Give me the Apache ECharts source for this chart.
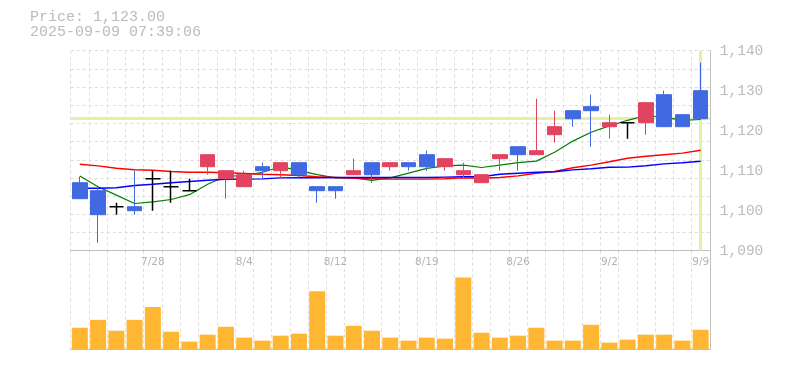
<!DOCTYPE html>
<html>
<head>
<meta charset="utf-8">
<script src="https://cdn.jsdelivr.net/npm/echarts@6/dist/echarts.min.js"></script>
<style>
html,body{margin:0;padding:0;background:#fff;}
#main{width:785px;height:370px;}
</style>
</head>
<body>
<div id="main"></div>
<script>
// ---- data ----
const dates = ['7/22','7/23','7/24','7/25','7/28','7/29','7/30','7/31','8/1','8/4','8/5','8/6','8/7','8/8','8/12','8/13','8/14','8/15','8/18','8/19','8/20','8/21','8/22','8/25','8/26','8/27','8/28','8/29','9/1','9/2','9/3','9/4','9/5','9/8','9/9'];
const tickLabels = ['7/28','8/4','8/12','8/19','8/26','9/2','9/9'];
const priceTicks = [1090, 1140, 10];

const opens  = [1107,1105,1101,1101,1108,1106,1105,1111,1108,1106,1111,1110,1112,1106,1106,1109,1112,1111,1112,1114,1111,1109,1107,1113,1116,1114,1119,1125,1126,1121,1122,1122,1129,1124,1130];
const closes = [1103,1099,1101,1100,1108,1106,1105,1114,1110,1109,1110,1112,1109,1105,1105,1110,1109,1112,1111,1111,1113,1110,1109,1114,1114,1115,1121,1123,1125,1122,1122,1127,1121,1121,1123];
const highs  = [1108.5,1106,1102,1110,1110,1110,1108,1114,1110,1110,1112,1112,1112,1106,1106,1113,1112,1112,1112,1115,1113,1112,1109,1114,1116,1128,1125,1125,1129,1124,1122,1127,1130,1124,1137];
const lows   = [1103,1092,1099,1099,1100,1102,1105,1109,1103,1106,1108,1108,1108,1102,1103,1109,1107,1110,1110,1110,1110,1108,1107,1110,1110,1114,1117,1121,1116,1118,1118,1119,1121,1121,1123];

const maGreen = [1108.7,1106.0,1103.9,1101.8,1102.2,1102.8,1104.0,1106.6,1108.6,1108.8,1109.6,1111.0,1110.0,1109.0,1108.2,1108.2,1107.6,1108.2,1109.4,1110.6,1111.2,1111.4,1110.8,1111.4,1112.0,1112.4,1114.6,1117.4,1119.6,1121.2,1122.6,1123.8,1123.4,1122.6,1122.8];
const maRed   = [1111.6,1111.2,1110.6,1110.25,1110.1,1109.8,1109.6,1109.6,1109.5,1109.3,1109.1,1109.0,1108.8,1108.5,1108.3,1108.1,1108.0,1107.9,1107.9,1107.9,1108.0,1108.2,1108.1,1108.3,1108.7,1109.35,1109.8,1110.75,1111.4,1112.25,1113.1,1113.6,1114.0,1114.4,1115.1];
const maBlue  = [1105.6,1105.6,1105.75,1106.3,1106.6,1107.0,1107.3,1107.6,1107.85,1107.9,1107.95,1108.2,1108.25,1108.25,1108.3,1108.3,1108.3,1108.3,1108.3,1108.3,1108.4,1108.5,1108.5,1109.1,1109.35,1109.6,1109.75,1110.2,1110.5,1110.85,1110.9,1111.25,1111.7,1112.0,1112.35];

const volumes = [22,30,19,30,43,18,8,15,23,12,9,14,16,59,14,24,19,12,9,12,11,73,17,12,14,22,9,9,25,7,10,15,15,9,20];

const currentPrice = 1123;
const headerLines = ['Price: 1,123.00', '2025-09-09 07:39:06'];

// ---- chart ----
const UP = '#e2435f', DOWN = '#4169e1', DOJI = '#000000';
const candleData = opens.map((o, i) => {
  const item = { value: [o, closes[i], lows[i], highs[i]] };
  if (o === closes[i]) {
    item.itemStyle = { color: DOJI, color0: DOJI, borderColor: DOJI, borderColor0: DOJI, borderWidth: 1.5 };
  }
  return item;
});

const gridLine = { show: true, lineStyle: { color: '#dddddd', type: [3, 3], width: 1 } };
const solidAxis = { show: true, lineStyle: { color: '#c0c0c0', width: 1 } };
const L = 70.7, R = 785 - 709.8;

const chart = echarts.init(document.getElementById('main'), null, { renderer: 'canvas' });
chart.setOption({
  animation: false,
  backgroundColor: '#ffffff',
  title: {
    text: headerLines.join('\n'),
    left: 30, top: 10, padding: 0,
    textStyle: { fontFamily: 'Liberation Mono', fontSize: 15, lineHeight: 15, color: '#bbbbbb', fontWeight: 'normal' }
  },
  grid: [
    { left: L, right: R, top: 50.7, height: 200 },
    { left: L, right: R, top: 250.7, bottom: 20.5 }
  ],
  xAxis: [
    {
      type: 'category', gridIndex: 0, data: dates, boundaryGap: true,
      axisLine: solidAxis, axisTick: { show: false },
      splitLine: Object.assign({ interval: 0 }, gridLine),
      axisLabel: {
        interval: 0, margin: 6, color: '#b4b4b4', fontFamily: 'DejaVu Sans', fontSize: 10.5,
        formatter: v => tickLabels.includes(v) ? v : ''
      }
    },
    {
      type: 'category', gridIndex: 1, data: dates, boundaryGap: true,
      axisLine: solidAxis, axisTick: { show: false }, axisLabel: { show: false },
      splitLine: Object.assign({ interval: 0 }, gridLine)
    }
  ],
  yAxis: [
    {
      type: 'value', gridIndex: 0, position: 'right',
      min: priceTicks[0], max: priceTicks[1], interval: priceTicks[2],
      axisLine: solidAxis, axisTick: { show: false }, splitLine: { show: false },
      axisLabel: {
        margin: 10, color: '#bbbbbb', fontFamily: 'Liberation Mono', fontSize: 14.5,
        padding: [3, 0, 0, 0],
        formatter: v => v.toLocaleString('en-US')
      }
    },
    {
      type: 'value', gridIndex: 0, position: 'left', min: 0, max: 11, interval: 1,
      axisLine: { show: false }, axisTick: { show: false }, axisLabel: { show: false },
      splitLine: gridLine
    },
    {
      type: 'value', gridIndex: 1, position: 'right', min: 0, max: 100,
      axisLine: solidAxis, axisTick: { show: false }, axisLabel: { show: false },
      splitLine: { show: false }
    }
  ],
  series: [
    {
      type: 'line', xAxisIndex: 0, yAxisIndex: 0, data: maGreen, symbol: 'none', z: 2,
      lineStyle: { color: '#008000', width: 1.2 }, silent: true
    },
    {
      type: 'line', xAxisIndex: 0, yAxisIndex: 0, data: maRed, symbol: 'none', z: 2,
      lineStyle: { color: '#ff0000', width: 1.4 }, silent: true
    },
    {
      type: 'line', xAxisIndex: 0, yAxisIndex: 0, data: maBlue, symbol: 'none', z: 2,
      lineStyle: { color: '#0000ff', width: 1.4 }, silent: true
    },
    {
      type: 'candlestick', xAxisIndex: 0, yAxisIndex: 0, data: candleData, z: 3,
      barWidth: 15,
      itemStyle: { color: UP, color0: DOWN, borderColor: UP, borderColor0: DOWN, borderWidth: 1 },
      markLine: {
        silent: true, symbol: 'none', z: 1, animation: false,
        label: { show: false },
        lineStyle: { color: '#e2f2a0', width: 3, type: 'solid' },
        data: [ { yAxis: currentPrice }, { xAxis: dates.length - 1 } ]
      }
    },
    {
      type: 'bar', xAxisIndex: 1, yAxisIndex: 2, data: volumes, barWidth: 16,
      itemStyle: { color: '#ffb733' }, silent: true
    }
  ]
});
</script>
</body>
</html>
